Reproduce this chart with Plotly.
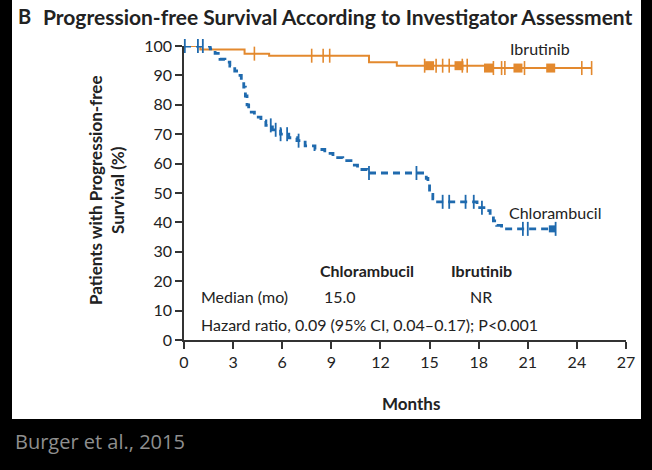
import plotly.graph_objects as go
import numpy as np

# ---------------- data ----------------
x_ticks = [0, 3, 6, 9, 12, 15, 18, 21, 24, 27]
y_ticks = [0, 10, 20, 30, 40, 50, 60, 70, 80, 90, 100]

ibr_months = [0, 1.0, 3.7, 5.2, 11.3, 13.0, 18.5, 24.9]
ibr_surv = [100, 98.8, 97.4, 96.7, 94.5, 93.3, 92.5, 92.5]
ibr_censor = [4.3, 7.8, 8.5, 8.9, 14.7, 15.4, 15.8, 16.2, 17.0, 17.3, 18.9,
              19.4, 19.6, 20.8, 24.3, 24.9]
ibr_cluster = [15.0, 16.8, 18.6, 20.4, 22.4]

chl_months = [0, 1.6, 1.9, 2.2, 2.5, 2.8, 3.1, 3.3, 3.5, 3.65, 3.75, 3.85,
              3.95, 4.3, 4.7, 5.0, 5.4, 5.9, 6.4, 6.9, 7.4, 8.0, 8.6, 9.1,
              9.7, 10.2, 10.6, 11.2, 14.8, 14.9, 15.0, 15.1, 15.2, 15.4,
              17.9, 18.5, 18.7, 18.9, 19.1, 19.4, 22.7]
chl_surv = [100, 99, 97.5, 95.5, 94.5, 93.2, 91.5, 90, 88, 86, 83, 80,
            77.5, 75.8, 74.5, 73, 71.5, 70, 68.8, 67.8, 66, 64.8, 63.5, 62,
            61, 59.5, 58, 56.8, 55, 53, 51, 49.5, 48, 47,
            45, 44, 42, 40.5, 39, 37.8, 37.8]
chl_censor = [0.05, 0.85, 1.15, 5.3, 5.6, 5.9, 6.3, 7.0, 11.3, 14.2, 15.8,
              16.2, 17.2, 17.7, 18.2, 20.7, 21.0, 22.7]
chl_cluster = [22.5]

ORANGE = "#E3892E"
BLUE = "#1F6AAE"
FONT = "Lato"


def step_value(months, surv, t):
    idx = np.searchsorted(months, t, side="right") - 1
    return [surv[i] for i in idx]


fig = go.Figure()

# Ibrutinib
fig.add_trace(go.Scatter(x=ibr_months, y=ibr_surv, mode="lines",
                         line=dict(color=ORANGE, width=2, shape="hv"),
                         cliponaxis=False, showlegend=False, hoverinfo="skip"))
fig.add_trace(go.Scatter(x=ibr_censor, y=step_value(ibr_months, ibr_surv, ibr_censor),
                         mode="markers", cliponaxis=False, showlegend=False,
                         marker=dict(symbol="line-ns", size=10,
                                     line=dict(color=ORANGE, width=1.6))))
fig.add_trace(go.Scatter(x=ibr_cluster, y=step_value(ibr_months, ibr_surv, ibr_cluster),
                         mode="markers", cliponaxis=False, showlegend=False,
                         marker=dict(symbol="square", size=9, color=ORANGE,
                                     line=dict(width=0))))

# Chlorambucil
fig.add_trace(go.Scatter(x=chl_months, y=chl_surv, mode="lines",
                         line=dict(color=BLUE, width=2.8, shape="hv", dash="7px,5px"),
                         cliponaxis=False, showlegend=False, hoverinfo="skip"))
fig.add_trace(go.Scatter(x=chl_censor, y=step_value(chl_months, chl_surv, chl_censor),
                         mode="markers", cliponaxis=False, showlegend=False,
                         marker=dict(symbol="line-ns", size=10,
                                     line=dict(color=BLUE, width=1.8))))
fig.add_trace(go.Scatter(x=chl_cluster, y=step_value(chl_months, chl_surv, chl_cluster),
                         mode="markers", cliponaxis=False, showlegend=False,
                         marker=dict(symbol="square", size=7, color=BLUE,
                                     line=dict(width=0))))

L, R, T, B = 184, 26, 46, 130
W, H = 652, 470
pw, ph = W - L - R, H - T - B


def px(xp):
    return (xp - L) / pw


def py(yp):
    return (H - B - yp) / ph


# white panel
fig.add_shape(type="rect", xref="paper", yref="paper",
              x0=px(12), x1=px(641), y0=py(419), y1=py(-5),
              fillcolor="white", line=dict(width=0), layer="below")

TXT = "#222222"
ann = [
    dict(x=px(16), y=py(16), text="<b>B</b>", xanchor="left", size=20),
    dict(x=px(41), y=py(16), text="<b>Progression-free Survival According to Investigator Assessment</b>",
         xanchor="left", size=21),
    dict(x=px(540), y=py(48), text="Ibrutinib", xanchor="center", size=16),
    dict(x=px(555), y=py(212), text="Chlorambucil", xanchor="center", size=16),
    dict(x=px(367), y=py(270), text="<b>Chlorambucil</b>", xanchor="center", size=16),
    dict(x=px(481), y=py(270), text="<b>Ibrutinib</b>", xanchor="center", size=16),
    dict(x=px(199), y=py(296), text="Median (mo)", xanchor="left", size=16),
    dict(x=px(340), y=py(296), text="15.0", xanchor="center", size=16),
    dict(x=px(481), y=py(296), text="NR", xanchor="center", size=16),
    dict(x=px(199), y=py(324), text="Hazard ratio, 0.09 (95% CI, 0.04\u20130.17); P<0.001",
         xanchor="left", size=16),
    dict(x=px(411), y=py(403), text="<b>Months</b>", xanchor="center", size=17),
]
for a in ann:
    fig.add_annotation(x=a["x"], y=a["y"], xref="paper", yref="paper",
                       text=a["text"], xanchor=a["xanchor"], yanchor="middle",
                       showarrow=False, font=dict(family=FONT, size=a["size"], color=TXT))

fig.add_annotation(x=px(106), y=py(191), xref="paper", yref="paper",
                   text="<b>Patients with Progression-free<br>Survival (%)</b>",
                   textangle=-90, showarrow=False, xanchor="center", yanchor="middle",
                   font=dict(family=FONT, size=17, color=TXT))

fig.add_annotation(x=px(13), y=py(441), xref="paper", yref="paper",
                   text="Burger et al., 2015", xanchor="left", yanchor="middle",
                   showarrow=False, font=dict(family="Open Sans", size=20, color="#8f8f8f"))

axis_common = dict(showgrid=False, zeroline=False, showline=True,
                   linecolor="#333333", linewidth=1.6, ticks="outside",
                   ticklen=7, tickwidth=1.6, tickcolor="#333333",
                   tickfont=dict(family=FONT, size=16, color=TXT))

fig.update_xaxes(range=[0, 27], tickvals=x_ticks, ticktext=[str(v) for v in x_ticks],
                 **axis_common)
fig.update_yaxes(range=[0, 100], tickvals=y_ticks, ticktext=[str(v) for v in y_ticks],
                 **axis_common)

fig.update_layout(width=W, height=H, margin=dict(l=L, r=R, t=T, b=B),
                  paper_bgcolor="black", plot_bgcolor="white",
                  showlegend=False)

fig.write_html("out.html", config={"displayModeBar": False},
               post_script="document.body.style.margin='0';document.body.style.background='black';")
